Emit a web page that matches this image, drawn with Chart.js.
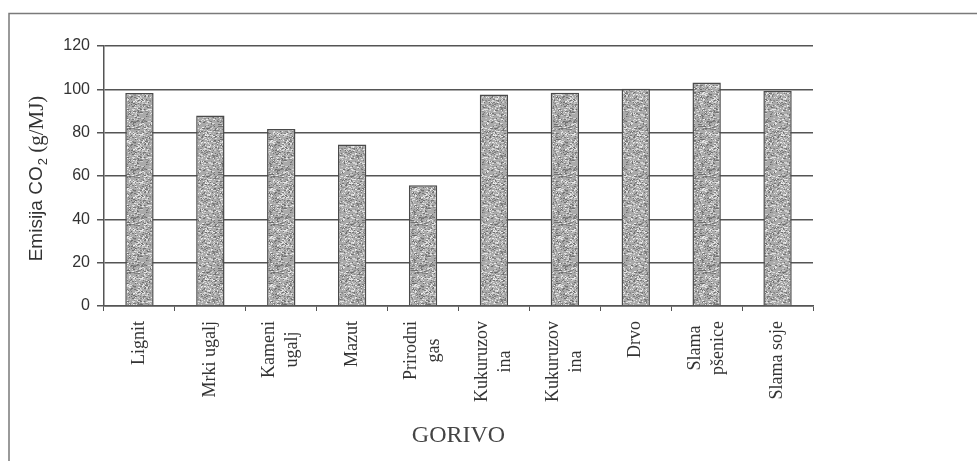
<!DOCTYPE html>
<html>
<head>
<meta charset="utf-8">
<script src="https://cdn.jsdelivr.net/npm/chart.js@4/dist/chart.umd.min.js"></script>
<style>
  html, body { margin: 0; padding: 0; background: #fff; }
  #wrap { width: 977px; height: 461px; position: relative; }
</style>
</head>
<body>
<div id="wrap"><canvas id="c" width="977" height="461"></canvas></div>
<script>
// Fuel types (tick labels, split over two lines where wrapped)
const categories = [
  'Lignit',
  'Mrki ugalj',
  ['Kameni', 'ugalj'],
  'Mazut',
  ['Prirodni', 'gas'],
  ['Kukuruzov', 'ina'],
  ['Kukuruzov', 'ina'],
  'Drvo',
  ['Slama', 'pšenice'],
  'Slama soje'
];

// CO2 emission per unit of energy, g/MJ
const emissions = [98.3, 87.9, 81.7, 74.5, 55.7, 97.6, 98.4, 100.3, 103.2, 99.4];

const yTicks = [0, 20, 40, 60, 80, 100, 120];
const xTitle = 'GORIVO';

// Stippled grey fill for the bars (fixed-seed speckle texture)
function makeStipple() {
  const size = 48;
  const cv = document.createElement('canvas');
  cv.width = size; cv.height = size;
  const g = cv.getContext('2d');
  g.fillStyle = '#aaaaaa';
  g.fillRect(0, 0, size, size);
  let s = 12345;
  const next = () => { s = (s * 1103515245 + 12345) & 0x7fffffff; return s / 0x7fffffff; };
  for (let i = 0; i < 900; i++) {
    const x = Math.floor(next() * size), y = Math.floor(next() * size);
    const dark = next() < 0.5;
    const v = dark ? 105 + Math.floor(next() * 40) : 195 + Math.floor(next() * 45);
    g.fillStyle = `rgb(${v},${v},${v})`;
    g.fillRect(x, y, 1 + (next() < 0.4 ? 1 : 0), 1);
  }
  return g.createPattern(cv, 'repeat');
}

const LABEL_FONT = '18px "Liberation Serif", "Times New Roman", serif';
const LABEL_LINE = 23;

// Frame, rotated category labels, axis titles
const decor = {
  id: 'decor',
  afterDraw(chart) {
    const ctx = chart.ctx;
    const xs = chart.scales.x;
    ctx.save();
    // page frame
    ctx.strokeStyle = '#7a7a7a';
    ctx.lineWidth = 1.5;
    ctx.beginPath();
    ctx.moveTo(9, 461);
    ctx.lineTo(9, 13.5);
    ctx.lineTo(977, 13.5);
    ctx.stroke();
    ctx.restore();

    // category labels, read bottom-to-top, each block centred on its tick
    ctx.save();
    ctx.font = LABEL_FONT;
    ctx.fillStyle = '#333';
    ctx.textAlign = 'center';
    ctx.textBaseline = 'middle';
    const top = xs.top + 15;
    categories.forEach((lab, i) => {
      const lines = Array.isArray(lab) ? lab : [lab];
      const maxW = Math.max(...lines.map(l => ctx.measureText(l).width));
      const cx = xs.getPixelForTick(i);
      lines.forEach((line, j) => {
        const lx = cx + (j - (lines.length - 1) / 2) * LABEL_LINE;
        ctx.save();
        ctx.translate(lx, top + maxW / 2);
        ctx.rotate(-Math.PI / 2);
        ctx.fillText(line, 0, 0);
        ctx.restore();
      });
    });
    ctx.restore();

    // y title: "Emisija CO2 (g/MJ)" with subscript
    ctx.save();
    ctx.translate(37, 179);
    ctx.rotate(-Math.PI / 2);
    ctx.fillStyle = '#333';
    ctx.textBaseline = 'middle';
    const f1 = '19px "Liberation Sans", Arial, sans-serif';
    const f2 = '13px "Liberation Sans", Arial, sans-serif';
    const f3 = '21px "Liberation Serif", "Times New Roman", serif';
    ctx.font = f1; const w1 = ctx.measureText('Emisija CO').width;
    ctx.font = f2; const w2 = ctx.measureText('2').width;
    ctx.font = f3; const w3 = ctx.measureText(' (g/MJ)').width;
    let x = -(w1 + w2 + w3) / 2;
    ctx.textAlign = 'left';
    ctx.font = f1; ctx.fillText('Emisija CO', x, 0); x += w1;
    ctx.font = f2; ctx.fillText('2', x + 1, 6); x += w2 + 1;
    ctx.font = f3; ctx.fillText(' (g/MJ)', x, 0);
    ctx.restore();

    // x title
    ctx.save();
    ctx.fillStyle = '#444';
    ctx.font = '24px "Liberation Serif", "Times New Roman", serif';
    ctx.textAlign = 'center';
    ctx.textBaseline = 'middle';
    const a = chart.chartArea;
    ctx.fillText(xTitle, (a.left + a.right) / 2, 436);
    ctx.restore();
  }
};

new Chart(document.getElementById('c'), {
  type: 'bar',
  data: {
    labels: categories,
    datasets: [{
      data: emissions,
      backgroundColor: makeStipple(),
      borderColor: '#4a4a4a',
      borderWidth: 1.5,
      categoryPercentage: 0.8,
      barPercentage: 0.5
    }]
  },
  options: {
    responsive: false,
    animation: false,
    devicePixelRatio: 1,
    layout: { padding: { top: 46, right: 164, bottom: 0, left: 0 } },
    plugins: { legend: { display: false }, tooltip: { enabled: false } },
    scales: {
      x: {
        afterFit(scale) { scale.height = 155; },
        grid: { drawOnChartArea: false, drawTicks: true, tickLength: 5, color: '#555', offset: true },
        border: { display: true, color: '#555', width: 1.5 },
        ticks: { display: false, autoSkip: false }
      },
      y: {
        min: 0,
        max: 120,
        afterFit(scale) { scale.width = 104; },
        afterBuildTicks(scale) { scale.ticks = yTicks.map(v => ({ value: v })); },
        grid: { color: '#555', lineWidth: 1.5, tickLength: 7 },
        border: { display: true, color: '#555', width: 1.5 },
        ticks: {
          padding: 7,
          color: '#333',
          font: { family: '"Liberation Sans", Arial, sans-serif', size: 16 }
        }
      }
    }
  },
  plugins: [decor]
});
</script>
</body>
</html>
